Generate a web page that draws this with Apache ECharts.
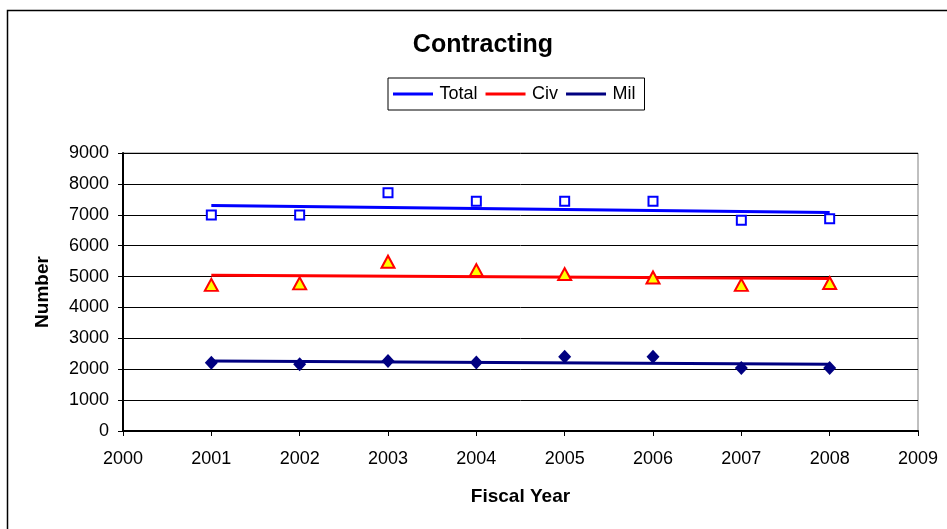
<!DOCTYPE html>
<html>
<head>
<meta charset="utf-8">
<script src="https://cdn.jsdelivr.net/npm/echarts@6/dist/echarts.min.js"></script>
<style>
  html, body { margin: 0; padding: 0; background: #fff; }
  #chart { width: 947px; height: 529px; }
</style>
</head>
<body>
<div id="chart"></div>
<script>
  // fiscal years
  var years = [2001, 2002, 2003, 2004, 2005, 2006, 2007, 2008];
  var totalVals = [6990, 6990, 7710, 7440, 7440, 7440, 6820, 6870];
  var civVals = [4730, 4780, 5480, 5210, 5080, 4970, 4730, 4790];
  var milVals = [2210, 2160, 2265, 2220, 2400, 2400, 2040, 2040];
  // trend line end points (2001, 2008)
  var trendYears = [2001, 2008];
  var totalTrend = [7300, 7070];
  var civTrend = [5040, 4940];
  var milTrend = [2265, 2160];
  var yTicks = [0, 1000, 2000, 3000, 4000, 5000, 6000, 7000, 8000, 9000];

  function pairs(xs, ys) {
    return xs.map(function (x, i) { return [x, ys[i]]; });
  }

  var lineIcon = 'path://M0,0 h40 v3 h-40 z';

  var chart = echarts.init(document.getElementById('chart'));
  chart.setOption({
    animation: false,
    textStyle: { fontFamily: 'Liberation Sans, Arial, sans-serif' },
    title: {
      text: 'Contracting',
      left: 478,
      textAlign: 'center',
      top: 28,
      textStyle: { fontSize: 25, fontWeight: 'bold', color: '#000' }
    },
    legend: {
      left: 388,
      top: 78,
      borderColor: '#000',
      borderWidth: 1,
      padding: [7, 9, 7, 5],
      itemWidth: 43,
      itemHeight: 3,
      itemGap: 8,
      icon: lineIcon,
      textStyle: { fontSize: 18, color: '#000' },
      data: ['Total', 'Civ', 'Mil']
    },
    graphic: [{
      type: 'rect',
      shape: { x: 7.5, y: 10.5, width: 960, height: 540 },
      style: { fill: 'none', stroke: '#000', lineWidth: 1.5 },
      silent: true
    }],
    grid: {
      left: 123, top: 153, right: 29, bottom: 98,
      show: true, borderColor: '#808080', borderWidth: 1
    },
    xAxis: {
      type: 'value',
      min: 2000,
      max: 2009,
      interval: 1,
      name: 'Fiscal Year',
      nameLocation: 'middle',
      nameGap: 56,
      nameTextStyle: { fontSize: 19, fontWeight: 'bold', color: '#000' },
      axisLine: { show: true, lineStyle: { color: '#000', width: 2 } },
      axisTick: { show: true, length: 5, lineStyle: { color: '#000' } },
      axisLabel: { fontSize: 18, color: '#000', margin: 19, formatter: function (v) { return String(v); } },
      splitLine: { show: false }
    },
    yAxis: {
      type: 'value',
      min: yTicks[0],
      max: yTicks[yTicks.length - 1],
      interval: 1000,
      name: 'Number',
      nameLocation: 'middle',
      nameGap: 71,
      nameTextStyle: { fontSize: 19, fontWeight: 'bold', color: '#000' },
      axisLine: { show: true, lineStyle: { color: '#000', width: 2 } },
      axisTick: { show: true, length: 5, lineStyle: { color: '#000' } },
      axisLabel: { fontSize: 18, color: '#000', margin: 14, formatter: function (v) { return String(v); } },
      splitLine: { show: true, lineStyle: { color: '#000', width: 1 } }
    },
    series: [
      {
        name: 'Total', type: 'line', data: pairs(trendYears, totalTrend),
        symbol: 'none', lineStyle: { color: '#0000ff', width: 3 }, itemStyle: { color: '#0000ff' }, z: 3
      },
      {
        name: 'Civ', type: 'line', data: pairs(trendYears, civTrend),
        symbol: 'none', lineStyle: { color: '#ff0000', width: 3 }, itemStyle: { color: '#ff0000' }, z: 3
      },
      {
        name: 'Mil', type: 'line', data: pairs(trendYears, milTrend),
        symbol: 'none', lineStyle: { color: '#000080', width: 3 }, itemStyle: { color: '#000080' }, z: 3
      },
      {
        name: 'TotalPts', type: 'scatter', data: pairs(years, totalVals),
        symbol: 'rect', symbolSize: 9,
        itemStyle: { color: '#fff', borderColor: '#0000ff', borderWidth: 2, opacity: 1 }, z: 4
      },
      {
        name: 'CivPts', type: 'scatter', data: pairs(years, civVals),
        symbol: 'triangle', symbolSize: [13, 12],
        itemStyle: { color: '#ffff00', borderColor: '#ff0000', borderWidth: 2, opacity: 1 }, z: 4
      },
      {
        name: 'MilPts', type: 'scatter', data: pairs(years, milVals),
        symbol: 'diamond', symbolSize: [13, 14],
        itemStyle: { color: '#000080', opacity: 1 }, z: 4
      }
    ]
  });
</script>
</body>
</html>
